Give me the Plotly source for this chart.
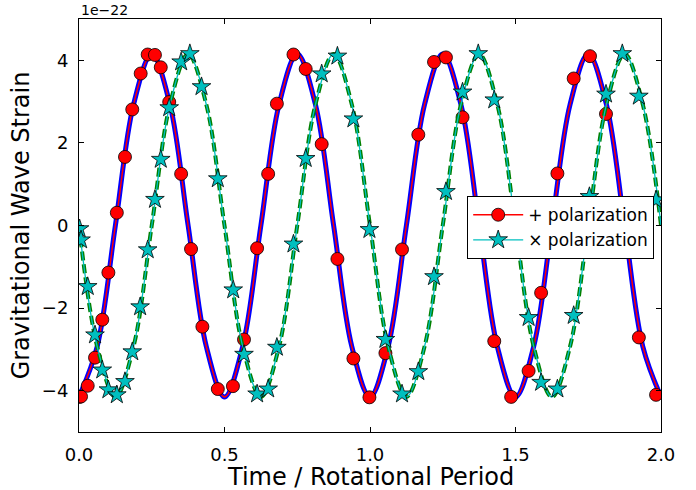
import plotly.graph_objects as go

# ---- smooth curves (read at t = k/16) ----
curve_t = [k / 16 for k in range(33)]
curve_plus = [-4.15, -2.93, 0.0, 2.93, 4.15, 2.93, 0.0, -2.93,
              -4.15, -2.93, 0.0, 2.93, 4.15, 2.93, 0.0, -2.93,
              -4.15, -2.93, 0.0, 2.93, 4.15, 2.93, 0.0, -2.93,
              -4.15, -2.93, 0.0, 2.93, 4.15, 2.93, 0.0, -2.93, -4.15]
curve_cross = [0.0, -2.93, -4.15, -2.93, 0.0, 2.93, 4.15, 2.93,
               0.0, -2.93, -4.15, -2.93, 0.0, 2.93, 4.15, 2.93,
               0.0, -2.93, -4.15, -2.93, 0.0, 2.93, 4.15, 2.93,
               0.0, -2.93, -4.15, -2.93, 0.0, 2.93, 4.15, 2.93, 0.0]

# ---- sampled markers ----
plus_t = [0.002, 0.007, 0.030, 0.055, 0.080, 0.101, 0.130, 0.158, 0.183, 0.212,
          0.236, 0.261, 0.281, 0.310, 0.351, 0.385, 0.424, 0.477, 0.529, 0.567,
          0.612, 0.650, 0.680, 0.737, 0.779, 0.834, 0.888, 0.943, 0.998, 1.053,
          1.110, 1.166, 1.220, 1.261, 1.318, 1.372, 1.427, 1.485, 1.545, 1.588,
          1.644, 1.700, 1.756, 1.811, 1.867, 1.924, 1.983]
plus_v = [-4.15, -4.14, -3.88, -3.20, -2.28, -1.14, 0.31, 1.66, 2.81, 3.68,
          4.14, 4.13, 3.83, 2.99, 1.25, -0.57, -2.45, -3.96, -3.89, -2.76,
          -0.55, 1.25, 2.95, 4.14, 3.79, 1.97, -0.81, -3.22, -4.16, -3.09,
          -0.58, 2.20, 3.96, 4.07, 2.62, 0.15, -2.80, -4.15, -3.52, -1.63,
          1.26, 3.56, 4.10, 2.70, 0.42, -2.71, -4.10]

cross_t = [0.002, 0.007, 0.030, 0.055, 0.080, 0.101, 0.130, 0.158, 0.183, 0.210,
           0.236, 0.261, 0.281, 0.310, 0.351, 0.381, 0.421, 0.477, 0.530, 0.567,
           0.612, 0.650, 0.680, 0.737, 0.779, 0.834, 0.888, 0.943, 0.998, 1.053,
           1.110, 1.166, 1.220, 1.261, 1.318, 1.372, 1.427, 1.545, 1.588, 1.644,
           1.700, 1.754, 1.811, 1.867, 1.924, 1.983]
cross_v = [-0.08, -0.35, -1.48, -2.65, -3.50, -3.98, -4.10, -3.78, -3.06, -1.97,
           -0.59, 0.63, 1.60, 2.85, 3.96, 4.16, 3.36, 1.13, -1.56, -3.12,
           -4.08, -3.96, -2.95, -0.45, 1.62, 3.67, 4.10, 2.58, -0.10, -2.76,
           -4.08, -3.54, -1.24, 0.82, 3.23, 4.16, 3.04, -2.23, -3.80, -3.96,
           -2.18, 0.70, 3.18, 4.16, 3.13, 0.62]

x_ticks = [0.0, 0.5, 1.0, 1.5, 2.0]
x_ticktext = ["0.0", "0.5", "1.0", "1.5", "2.0"]
y_ticks = [-4, -2, 0, 2, 4]
y_ticktext = ["\u22124", "\u22122", "0", "2", "4"]

RED = "#ff0000"
BLUE = "#0000ff"
GREEN = "#008000"
CYAN = "#00bfbf"
FONT = "DejaVu Sans"

fig = go.Figure()
fig.add_trace(go.Scatter(x=curve_t, y=curve_plus, mode="lines",
                         line=dict(color=BLUE, width=5, shape="spline", smoothing=1.0),
                         showlegend=False, hoverinfo="skip"))
fig.add_trace(go.Scatter(x=curve_t, y=curve_plus, mode="lines",
                         line=dict(color=RED, width=1.5, shape="spline", smoothing=1.0),
                         showlegend=False, hoverinfo="skip"))
fig.add_trace(go.Scatter(x=plus_t, y=plus_v, mode="markers",
                         marker=dict(symbol="circle", size=13, color=RED,
                                     line=dict(color="black", width=0.8)),
                         showlegend=False))
fig.add_trace(go.Scatter(x=curve_t, y=curve_cross, mode="lines",
                         line=dict(color=GREEN, width=4, dash="9px,4px", shape="spline", smoothing=1.0),
                         showlegend=False, hoverinfo="skip"))
fig.add_trace(go.Scatter(x=curve_t, y=curve_cross, mode="lines",
                         line=dict(color=CYAN, width=1.3, shape="spline", smoothing=1.0),
                         showlegend=False, hoverinfo="skip"))
fig.add_trace(go.Scatter(x=cross_t, y=cross_v, mode="markers",
                         marker=dict(symbol="star", size=14, color=CYAN,
                                     line=dict(color="black", width=0.8)),
                         showlegend=False))
# legend entries
fig.add_trace(go.Scatter(x=[None], y=[None], mode="lines+markers", name="+ polarization",
                         line=dict(color=RED, width=1.5),
                         marker=dict(symbol="circle", size=13, color=RED,
                                     line=dict(color="black", width=0.8))))
fig.add_trace(go.Scatter(x=[None], y=[None], mode="lines+markers", name="\u00d7 polarization",
                         line=dict(color=CYAN, width=1.3),
                         marker=dict(symbol="star", size=14, color=CYAN,
                                     line=dict(color="black", width=0.8))))

axis_common = dict(showgrid=False, zeroline=False, showline=True, linecolor="black",
                   linewidth=1, mirror="ticks", ticks="inside", ticklen=5,
                   tickcolor="black", tickwidth=1, automargin=False,
                   tickfont=dict(family=FONT, size=18, color="black"))

fig.update_xaxes(range=[0, 2], tickvals=x_ticks, ticktext=x_ticktext,
                 ticklabelstandoff=6, **axis_common)
fig.update_yaxes(range=[-5, 5], tickvals=y_ticks, ticktext=y_ticktext,
                 title=dict(text="Gravitational Wave Strain",
                            font=dict(family=FONT, size=24, color="black"), standoff=5),
                 ticklabelstandoff=6, **axis_common)

fig.add_annotation(text="Time / Rotational Period", xref="paper", yref="paper",
                   x=0.5, y=0, xanchor="center", yanchor="bottom", yshift=-60,
                   borderpad=0,
                   showarrow=False, font=dict(family=FONT, size=24, color="black"))

fig.add_annotation(text="1e\u221222", xref="paper", yref="paper", x=0, y=1,
                   xanchor="left", yanchor="bottom", showarrow=False,
                   font=dict(family=FONT, size=14, color="black"), yshift=-1)

fig.update_layout(
    width=696, height=490,
    margin=dict(l=79, r=35, t=19, b=58),
    plot_bgcolor="white", paper_bgcolor="white",
    font=dict(family=FONT, color="black"),
    legend=dict(x=0.667, y=0.571, xanchor="left", yanchor="top",
                bgcolor="white", bordercolor="black", borderwidth=1,
                font=dict(family=FONT, size=17, color="black"),
                itemwidth=50, tracegroupgap=0),
)

fig.write_html("out.html")
